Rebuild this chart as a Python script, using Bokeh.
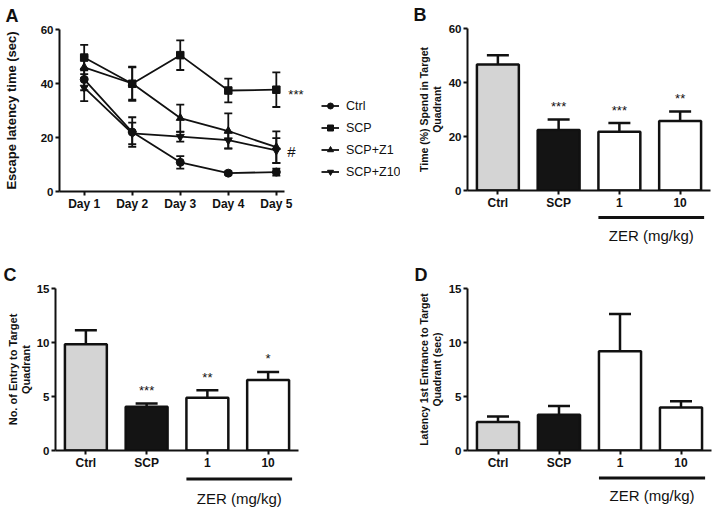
from bokeh.plotting import figure
from bokeh.models import (Range1d, FixedTicker, Whisker, TeeHead, Legend,
                          LegendItem, ColumnDataSource)
from bokeh.layouts import row, column
from bokeh.core.properties import value
from bokeh.embed import file_html
from bokeh.resources import INLINE

FONT = "Liberation Sans"
INK = "#111111"

# ---------------- Panel A data ----------------
days = ["Day 1", "Day 2", "Day 3", "Day 4", "Day 5"]
day_pos = [1, 2, 3, 4, 5]
series_names = ["Ctrl", "SCP", "SCP+Z1", "SCP+Z10"]
ctrl_mean = [41.5, 22.0, 10.8, 6.8, 7.2]
ctrl_err = [4.0, 5.5, 2.3, 0.6, 1.3]
scp_mean = [49.6, 39.9, 50.5, 37.4, 37.7]
scp_err = [4.7, 6.3, 5.5, 4.4, 6.4]
z1_mean = [46.0, 40.0, 27.2, 22.4, 16.4]
z1_err = [4.0, 6.0, 5.0, 6.5, 5.9]
z10_mean = [38.5, 21.5, 20.3, 19.0, 15.2]
z10_err = [5.0, 4.0, 1.8, 3.0, 4.6]
a_yticks = [0, 20, 40, 60]

# ---------------- Bar panels data ----------------
groups = ["Ctrl", "SCP", "1", "10"]
bar_colors = ["#d4d4d4", "#141414", "#ffffff", "#ffffff"]

b_mean = [46.7, 22.4, 21.8, 25.7]
b_err = [3.4, 3.9, 3.2, 3.6]
b_stars = ["", "***", "***", "**"]

c_mean = [9.83, 4.05, 4.89, 6.53]
c_err = [1.30, 0.31, 0.68, 0.74]
c_stars = ["", "***", "**", "*"]

d_mean = [2.64, 3.32, 9.19, 3.98]
d_err = [0.50, 0.81, 3.45, 0.59]
d_stars = ["", "", "", ""]

bar_yticks_60 = [0, 20, 40, 60]
bar_yticks_15 = [0, 5, 10, 15]
zer_label = "ZER (mg/kg)"
zer_groups = ["1", "10"]          # groups under the ZER dose bracket
BAR_W = 0.69


def style_axes(p, ytick_size="11.5px", xtick_size="12px"):
    p.xgrid.grid_line_color = None
    p.ygrid.grid_line_color = None
    p.outline_line_color = None
    for ax in (p.xaxis[0], p.yaxis[0]):
        ax.axis_line_color = INK
        ax.axis_line_width = 2
        ax.major_tick_line_color = INK
        ax.major_tick_line_width = 2
        ax.major_tick_out = 4
        ax.major_tick_in = 0
        ax.minor_tick_line_color = None
        ax.major_label_text_font = FONT
        ax.major_label_text_font_style = "bold"
        ax.major_label_text_color = INK
        ax.axis_label_text_font = FONT
        ax.axis_label_text_font_style = "bold"
        ax.axis_label_text_color = INK
    p.xaxis.major_label_text_font_size = xtick_size
    p.yaxis.major_label_text_font_size = ytick_size
    p.xaxis.major_label_standoff = 1
    p.yaxis.major_label_standoff = 2


def panel_letter(p, letter, offset, standoff, valign):
    p.title.text = letter
    p.title.align = "left"
    p.title.vertical_align = valign
    p.title.offset = offset
    p.title.standoff = standoff
    p.title.text_font = FONT
    p.title.text_font_style = "bold"
    p.title.text_font_size = "18px"
    p.title.text_color = INK


# ---------------- Panel A ----------------
# frame extends to the right so the legend and significance marks sit inside it;
# the x axis itself is bounded to the days region.
pA = figure(width=400, height=245, output_backend="svg", toolbar_location=None,
            x_range=Range1d(0.486, 7.585), y_range=Range1d(0, 60),
            min_border_left=55, min_border_right=0, min_border_top=29,
            min_border_bottom=54)
style_axes(pA)
pA.xaxis.bounds = (0.486, 5.18)
pA.xaxis.ticker = FixedTicker(ticks=day_pos)
pA.xaxis.major_label_overrides = {d: lab for d, lab in zip(day_pos, days)}
pA.yaxis.ticker = FixedTicker(ticks=a_yticks)
pA.yaxis.axis_label = "Escape latency time (sec)"
pA.yaxis.axis_label_text_font_size = "13px"
pA.yaxis.axis_label_standoff = 19

markers = ["circle", "square", "triangle", "inverted_triangle"]
means = [ctrl_mean, scp_mean, z1_mean, z10_mean]
errs = [ctrl_err, scp_err, z1_err, z10_err]
items = []
for name, mk, m, e in zip(series_names, markers, means, errs):
    src = ColumnDataSource(dict(x=day_pos, y=m,
                                upper=[a + b for a, b in zip(m, e)],
                                lower=[a - b for a, b in zip(m, e)]))
    pA.add_layout(Whisker(source=src, base="x", upper="upper", lower="lower",
                          line_color=INK, line_width=1.8,
                          upper_head=TeeHead(size=8, line_color=INK, line_width=1.8),
                          lower_head=TeeHead(size=8, line_color=INK, line_width=1.8)))
    lr = pA.line("x", "y", source=src, line_color=INK, line_width=1.8)
    sr = pA.scatter("x", "y", source=src, marker=mk, size=8 if mk != "square" else 7.5,
                    fill_color=INK, line_color=INK)
    items.append(LegendItem(label=name, renderers=[lr, sr]))

legend = Legend(items=items, location=(262, 12), background_fill_alpha=0,
                border_line_color=None, padding=0, margin=0, spacing=7,
                glyph_width=18, glyph_height=15, label_height=15, label_standoff=7,
                label_text_font=FONT, label_text_font_size="12.5px",
                label_text_color=INK)
pA.add_layout(legend, "center")

pA.text(x=[day_pos[-1]], y=[scp_mean[-1]], text=["***"], x_offset=12, y_offset=5,
        text_font=value(FONT), text_font_size="13px", text_color=INK,
        text_align="left", text_baseline="alphabetic")
pA.text(x=[day_pos[-1]], y=[z10_mean[-1]], text=["#"], x_offset=11, y_offset=1,
        text_font=value(FONT), text_font_size="15px", text_color=INK,
        text_align="left", text_baseline="alphabetic")
panel_letter(pA, "A", -54, 3, "top")


# ---------------- Bar panels ----------------
def bar_panel(mean, err, stars, ymax, yticks, ylabel, ylabel_size, letter,
              width, height, left, right, top, bottom, label_standoff, letter_off,
              letter_standoff, letter_valign, zer_height, zer_line_y, zer_text_y):
    p = figure(width=width, height=height, output_backend="svg", toolbar_location=None,
               x_range=Range1d(-0.5, 3.5), y_range=Range1d(0, ymax),
               min_border_left=left, min_border_right=right, min_border_top=top,
               min_border_bottom=bottom)
    style_axes(p, ytick_size="11.5px")
    xs = list(range(len(groups)))
    p.xaxis.ticker = FixedTicker(ticks=xs)
    p.xaxis.major_label_overrides = {i: g for i, g in zip(xs, groups)}
    p.yaxis.ticker = FixedTicker(ticks=yticks)
    p.yaxis.axis_label = ylabel
    p.yaxis.axis_label_text_font_size = ylabel_size
    p.yaxis.axis_label_standoff = label_standoff
    p.yaxis.axis_label_text_line_height = 1.05

    tops = [a + b for a, b in zip(mean, err)]
    src = ColumnDataSource(dict(x=xs, y=mean, top=tops, color=bar_colors, stars=stars))
    p.vbar(x="x", top="y", bottom=0, width=BAR_W, source=src, fill_color="color",
           line_color=INK, line_width=2.5)
    p.add_layout(Whisker(source=src, base="x", upper="top", lower="y",
                         line_color=INK, line_width=2.5,
                         upper_head=TeeHead(size=22, line_color=INK, line_width=2.5),
                         lower_head=None))
    p.text(x="x", y="top", text="stars", source=src, y_offset=-13,
           text_font=value(FONT), text_font_size="13px", text_color=INK,
           text_align="center", text_baseline="alphabetic")
    panel_letter(p, letter, letter_off, letter_standoff, letter_valign)

    # strip under the axis: the "ZER (mg/kg)" dose bracket, same x scale as the bars
    z = figure(width=width, height=zer_height, output_backend="svg",
               toolbar_location=None, x_range=p.x_range,
               y_range=Range1d(zer_height, 0), x_axis_type=None, y_axis_type=None,
               min_border_left=left, min_border_right=right, min_border_top=0,
               min_border_bottom=0)
    z.xgrid.grid_line_color = None
    z.ygrid.grid_line_color = None
    z.outline_line_color = None
    gi = [groups.index(g) for g in zer_groups]
    x0 = min(gi) - BAR_W / 2
    x1 = max(gi) + BAR_W / 2 + 0.05
    z.line(x=[x0, x1], y=[zer_line_y, zer_line_y], line_color=INK, line_width=3)
    z.text(x=[(x0 + x1) / 2], y=[zer_text_y], text=[zer_label],
           text_font=value(FONT), text_font_size="15px", text_color=INK,
           text_align="center", text_baseline="middle")
    return column(p, z)


colB = bar_panel(b_mean, b_err, b_stars, 60, bar_yticks_60,
                 "Time (%) Spend in Target\nQuadrant", "10.5px", "B",
                 314, 212, 67, 4, 28, 22, 3, -54, 3, "top", 33, 5, 23)
colC = bar_panel(c_mean, c_err, c_stars, 15, bar_yticks_15,
                 "No. of Entry to Target\nQuadrant", "11px", "C",
                 400, 227, 55, 102, 43, 22, 2, -52, 8, "bottom", 36, 6.5, 26)
colD = bar_panel(d_mean, d_err, d_stars, 15, bar_yticks_15,
                 "Latency 1st Entrance to Target\nQuadrant (sec)", "10.5px", "D",
                 314, 227, 67, 3, 43, 22, 3, -53, 8, "bottom", 36, 5.5, 23)

layout = column(row(pA, colB), row(colC, colD))
open("out.html", "w").write(file_html(layout, INLINE))
